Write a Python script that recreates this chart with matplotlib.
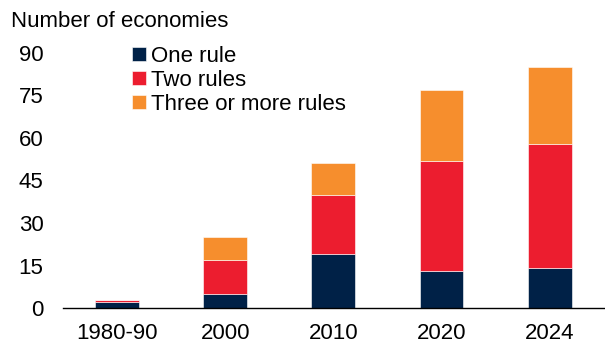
import matplotlib
matplotlib.use("Agg")
import matplotlib.pyplot as plt
import numpy as np

categories = ["1980-90", "2000", "2010", "2020", "2024"]
one_rule = [2, 5, 19, 13, 14]
two_rules = [1, 12, 21, 39, 44]
three_plus = [0, 8, 11, 25, 27]
series_labels = ["One rule", "Two rules", "Three or more rules"]
yticks = [0, 15, 30, 45, 60, 75, 90]

colors = ["#002147", "#EC1D2F", "#F68E2D"]
FS = 16

plt.rcParams['font.family'] = ['Liberation Sans', 'DejaVu Sans']
fig = plt.figure(figsize=(6.05, 3.45), dpi=100)
ax = fig.add_axes([0.104, 0.107, 0.894, 0.740])

x = np.arange(len(categories))
w = 0.405
bottom = np.zeros(len(categories))
for vals, c, lab in zip([one_rule, two_rules, three_plus], colors, series_labels):
    ax.bar(x, vals, w, bottom=bottom, color=c, label=lab, edgecolor='white', linewidth=0.4)
    bottom += np.array(vals)

ax.set_xlim(-0.5, 4.5)
ax.set_ylim(0, 90)
ax.set_yticks(yticks)
ax.set_xticks(x)
ax.set_xticklabels(categories)
for s in ['top', 'right', 'left']:
    ax.spines[s].set_visible(False)
ax.spines['bottom'].set_linewidth(1.0)
ax.tick_params(axis='both', length=0, labelsize=FS, colors='black')
ax.tick_params(axis='y', pad=14)
ax.tick_params(axis='x', pad=11)

fig.text(0.019, 1 - 27 / 345, "Number of economies", fontsize=FS, va='baseline', ha='left')

ax.legend(loc='upper left', bbox_to_anchor=(0.1285, 1.026), frameon=False, fontsize=FS,
          handlelength=0.6, handleheight=0.6, handletextpad=0.25, labelspacing=0.13,
          borderaxespad=0, borderpad=0)

fig.savefig("out.png", dpi=100)
